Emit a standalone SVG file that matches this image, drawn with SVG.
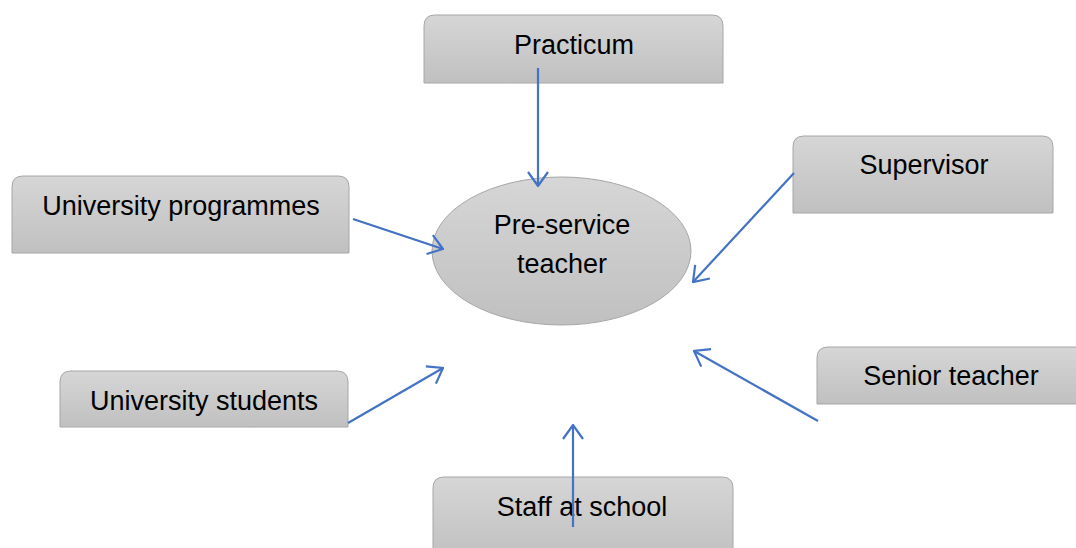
<svg xmlns="http://www.w3.org/2000/svg" width="1076" height="548" viewBox="0 0 1076 548">
<defs>
<linearGradient id="g" x1="0" y1="0" x2="0" y2="1">
<stop offset="0" stop-color="#d6d6d6"/>
<stop offset="1" stop-color="#c0c0c0"/>
</linearGradient>
<marker id="ah" viewBox="0 0 16 22" refX="15" refY="11" markerWidth="16" markerHeight="22" markerUnits="userSpaceOnUse" orient="auto">
<path d="M1,1 L15,11 L1,21" fill="none" stroke="#4472c4" stroke-width="2.2"/>
</marker>
</defs>
<style>
.box{fill:url(#g);stroke:#a6a6a6;stroke-width:1}
.t{font-family:"Liberation Sans",Arial,sans-serif;font-size:27px;fill:#000;text-anchor:middle}
.c{stroke:#4472c4;stroke-width:2.2;fill:none;marker-end:url(#ah)}
</style>
<rect width="1076" height="548" fill="#fff"/>
<g id="practicum">
<path class="box" d="M424,83 L424,26 Q424,15 435,15 L712,15 Q723,15 723,26 L723,83 Z"/>
<text class="t" x="574" y="54">Practicum</text>
</g>
<g id="univ-programmes">
<path class="box" d="M12,253 L12,187 Q12,176 23,176 L338,176 Q349,176 349,187 L349,253 Z"/>
<text class="t" x="181" y="215">University programmes</text>
</g>
<g id="supervisor">
<path class="box" d="M793,213 L793,147 Q793,136 804,136 L1042,136 Q1053,136 1053,147 L1053,213 Z"/>
<text class="t" x="924" y="174">Supervisor</text>
</g>
<g id="univ-students">
<path class="box" d="M60,427 L60,382 Q60,371 71,371 L337,371 Q348,371 348,382 L348,427 Z"/>
<text class="t" x="204" y="410">University students</text>
</g>
<g id="senior-teacher">
<path class="box" d="M817,404 L817,358 Q817,347 828,347 L1080,347 L1080,404 Z"/>
<text class="t" x="951" y="385">Senior teacher</text>
</g>
<g id="staff-school">
<path class="box" d="M433,560 L433,488 Q433,477 444,477 L722,477 Q733,477 733,488 L733,560 Z"/>
<text class="t" x="582" y="516">Staff at school</text>
</g>
<g id="pre-service">
<ellipse class="box" cx="561.5" cy="251" rx="129.5" ry="74"/>
<text class="t" x="562" y="234">Pre-service</text>
<text class="t" x="562" y="273">teacher</text>
</g>
<g id="connectors">
<line class="c" x1="538" y1="68" x2="538" y2="186"/>
<line class="c" x1="353" y1="219" x2="443" y2="249"/>
<line class="c" x1="794" y1="173" x2="693" y2="282"/>
<line class="c" x1="348" y1="423" x2="443" y2="368"/>
<line class="c" x1="818" y1="421" x2="694" y2="351"/>
<line class="c" x1="573" y1="527" x2="573" y2="425"/>
</g>
</svg>
